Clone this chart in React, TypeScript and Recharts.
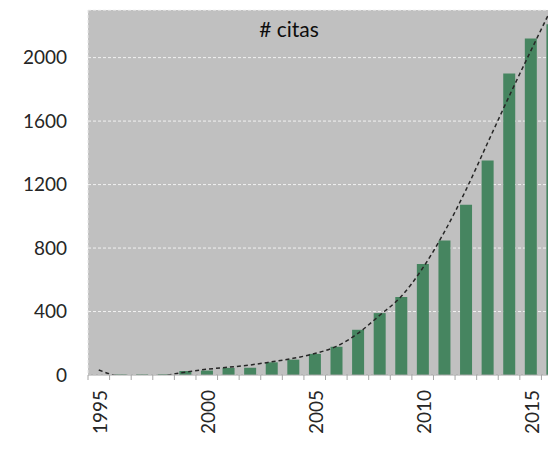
import { ComposedChart, Bar, Line, XAxis, YAxis, CartesianGrid } from "recharts";

const years = [
  1995, 1996, 1997, 1998, 1999, 2000, 2001, 2002, 2003, 2004, 2005,
  2006, 2007, 2008, 2009, 2010, 2011, 2012, 2013, 2014, 2015, 2016,
];
const citas = [
  0, 4, 4, 5, 25, 28, 45, 45, 80, 97, 133,
  178, 285, 390, 492, 700, 848, 1073, 1352, 1900, 2120, 2210,
];
const trend = [
  32, -10, -20, -5, 18, 36, 49, 63, 83, 105, 135,
  180, 262, 375, 494, 673, 900, 1165, 1460, 1755, 2040, 2320,
];
const yTicks = [0, 400, 800, 1200, 1600, 2000];

const data = years.map((year, i) => ({ year, citas: citas[i], trend: trend[i] }));

const FONT = "Lato, 'Open Sans', sans-serif";
const HALF_BAND = 10.78;

const YearTick = (props: any) => {
  const { x, y, payload, index } = props;
  const showLabel = index % 5 === 0;
  return (
    <g>
      <line x1={x - HALF_BAND} x2={x - HALF_BAND} y1={y} y2={y + 5} stroke="#a6a6a6" strokeWidth={1} />
      {showLabel && (
        <text
          x={x + 1}
          y={y + 15}
          transform={`rotate(-90 ${x + 1} ${y + 15})`}
          textAnchor="end"
          dominantBaseline="central"
          fontFamily={FONT}
          fontSize={19}
          fill="#262626"
        >
          {payload.value}
        </text>
      )}
    </g>
  );
};

const App = () => {
  return (
    <div
      style={{
        position: "fixed",
        left: 0,
        top: 0,
        width: 548,
        height: 449,
        overflow: "hidden",
        background: "#fff",
      }}
    >
      <ComposedChart
        width={563}
        height={449}
        data={data}
        margin={{ top: 10, right: 0, bottom: 0, left: 0 }}
      >
        <CartesianGrid
          vertical={false}
          fill="#c0c0c0"
          stroke="#f2f2f2"
          strokeDasharray="3 2"
        />
        <XAxis
          dataKey="year"
          height={74}
          interval={0}
          tickSize={0}
          tickMargin={0}
          tick={<YearTick />}
          axisLine={{ stroke: "#a6a6a6" }}
          tickLine={false}
        />
        <YAxis
          width={88}
          domain={[0, 2300]}
          ticks={yTicks}
          allowDataOverflow
          tickSize={0}
          tickMargin={21}
          axisLine={{ stroke: "#e6e6e6", strokeDasharray: "3 2" }}
          tickLine={false}
          tick={{ fontFamily: FONT, fontSize: 19, fill: "#262626" }}
        />
        <Bar dataKey="citas" fill="#468560" barSize={12} isAnimationActive={false} />
        <Line
          dataKey="trend"
          type="monotone"
          stroke="#262626"
          strokeWidth={1.5}
          strokeDasharray="4 3"
          dot={false}
          activeDot={false}
          isAnimationActive={false}
        />
      </ComposedChart>
      <div
        style={{
          position: "absolute",
          left: 189,
          top: 18,
          width: 200,
          textAlign: "center",
          fontFamily: FONT,
          fontSize: 21,
          lineHeight: "21px",
          color: "#0d0d0d",
        }}
      >
        # citas
      </div>
    </div>
  );
};

export default App;
